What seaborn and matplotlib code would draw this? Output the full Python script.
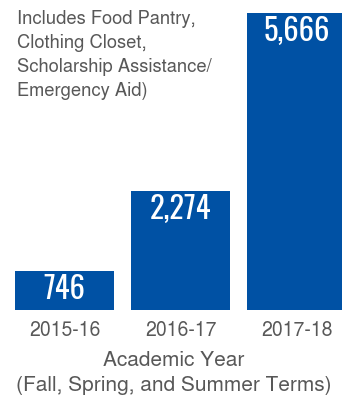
import matplotlib
matplotlib.use("Agg")
import matplotlib.pyplot as plt
import seaborn as sns
import pandas as pd

years = ["2015-16", "2016-17", "2017-18"]
counts = [746, 2274, 5666]
value_labels = ["746", "2,274", "5,666"]
note_text = "Includes Food Pantry,\nClothing Closet,\nScholarship Assistance/\nEmergency Aid)"
x_title = "Academic Year\n(Fall, Spring, and Summer Terms)"

BLUE = "#0051A4"
GRAY = "#585858"

sns.set_theme(style="white")
plt.rcParams['font.family'] = ['TeX Gyre Heros', 'Liberation Sans', 'DejaVu Sans']

df = pd.DataFrame({"year": years, "count": counts})

fig = plt.figure(figsize=(3.42, 4.08), dpi=100)
ax = fig.add_axes([6.5 / 342, (408 - 310) / 408, 348 / 342, 310 / 408])

sns.barplot(data=df, x="year", y="count", color=BLUE, saturation=1, width=0.853, ax=ax)
for p in ax.patches:
    p.set_edgecolor("none")

ax.set_xlim(-0.5, 2.5)
ax.set_ylim(0, 5666 * 310 / 297)
ax.set_yticks([])
ax.set_ylabel("")
for s in ax.spines.values():
    s.set_visible(False)

for i, (v, lab) in enumerate(zip(counts, value_labels)):
    ax.annotate(lab, xy=(i, v), xytext=(0, -2), textcoords="offset points",
                ha="center", va="top", color="white", fontsize=22,
                fontweight="bold", family=["Oswald", "DejaVu Sans"])

ax.tick_params(axis="x", length=0, pad=8, labelsize=14, labelcolor=GRAY)
ax.set_xlabel(x_title, fontsize=15, color=GRAY, linespacing=1.4)
ax.xaxis.set_label_coords((174 - 6.5) / 348, -41 / 310)
ax.xaxis.label.set_va("top")

fig.text(17 / 342, 1 - 10 / 408, note_text, ha="left", va="top", fontsize=13.2,
         color=GRAY, linespacing=1.42)

fig.savefig("out.png", dpi=100)
